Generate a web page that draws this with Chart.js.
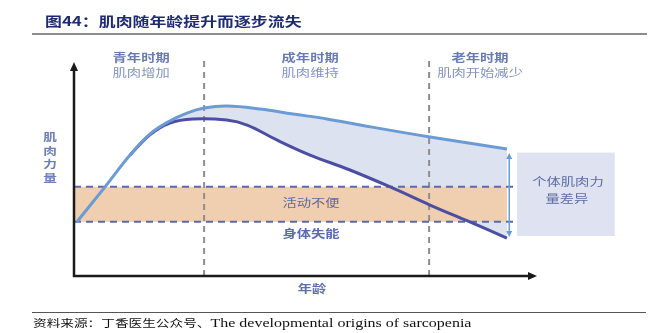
<!DOCTYPE html>
<html>
<head>
<meta charset="utf-8">
<script src="https://cdn.jsdelivr.net/npm/chart.js@4.4.1/dist/chart.umd.min.js"></script>
<style>
  body { margin: 0; background: #fff; }
  #wrap { position: relative; width: 655px; height: 333px; overflow: hidden; }
  #wrap canvas { position: absolute; left: 0; top: 0; }
  .title { position: absolute; left: 45px; top: 12px; font: bold 13px "Noto Sans CJK SC"; color: #1f2b70;
           letter-spacing: 0; transform: scaleX(1.3); transform-origin: 0 0; white-space: nowrap; line-height: 18px; }
  .rule-top { position: absolute; left: 32px; top: 33px; width: 615px; height: 2px; background: #8c8c8c; }
  .rule-bottom { position: absolute; left: 32px; top: 312px; width: 614px; height: 1px; background: #555; }
  .source { position: absolute; left: 33px; top: 316px; font: 10.5px "Liberation Serif", "Noto Sans CJK SC"; color: #111;
            transform: scaleX(1.3); transform-origin: 0 0; white-space: nowrap; line-height: 14px; }
  .source .en { font-size: 12.3px; }
</style>
</head>
<body>
<div id="wrap">
  <canvas id="muscleChart" width="655" height="333"></canvas>
  <div class="title">图44：肌肉随年龄提升而逐步流失</div>
  <div class="rule-top"></div>
  <div class="rule-bottom"></div>
  <div class="source">资料来源：丁香医生公众号、<span class="en">The developmental origins of sarcopenia</span></div>
</div>
<script>
// CURVE DATA (age 0-100, muscle strength 0-100)
const upperAge = [0.6, 6.5, 12.1, 16.4, 20.7, 24.4, 28.1, 33.0, 40.2, 47.3, 54.6, 61.8, 76.9, 93.5];
const upperStrength = [23.9, 38.9, 53.5, 62.8, 68.6, 72.1, 74.3, 75.2, 73.9, 71.7, 69.5, 66.8, 61.5, 56.2];
const lowerAge = [12.1, 16.4, 20.7, 25.7, 33.0, 37.4, 43.8, 51.0, 59.6, 68.3, 76.9, 85.5, 93.5];
const lowerStrength = [53.5, 62.5, 67.7, 69.5, 69.0, 66.8, 60.2, 53.5, 46.9, 39.4, 31.4, 23.9, 16.8];

// thresholds and life phases
const limitNames = ['活动不便', '身体失能'];
const limitValues = [39.5, 24.0];
const phaseNames = ['青年时期', '成年时期', '老年时期'];
const phaseNotes = ['肌肉增加', '肌肉维持', '肌肉开始减少'];
const phaseEdges = [28.1, 76.7];
const yTitle = '肌肉力量';
const xTitle = '年龄';
const gapNote = ['个体肌肉力', '量差异'];

const toPoints = (xs, ys) => xs.map((x, i) => ({ x: x, y: ys[i] }));
const lastAge = upperAge[upperAge.length - 1];

const upperPts = toPoints(upperAge, upperStrength);
const lowerPts = toPoints(lowerAge, lowerStrength);

function flatLine(value, toAge) {
  return [{ x: 0, y: value }, { x: toAge, y: value }];
}

const datasets = [
  { data: upperPts, borderColor: '#6b9bd4', borderWidth: 3, tension: 0.4, order: 0 },
  { data: lowerPts, borderColor: '#4c4ea2', borderWidth: 3, tension: 0.4, order: 1 },
  { data: flatLine(limitValues[0], lastAge + 2.2), borderColor: '#5b6aa8', borderWidth: 2, borderDash: [7, 5], order: 2 },
  { data: flatLine(limitValues[1], lastAge + 2.2), borderColor: '#5b6aa8', borderWidth: 2, borderDash: [7, 5], order: 2 },
];
phaseEdges.forEach(edge => {
  datasets.push({ data: [{ x: edge, y: 0 }, { x: edge, y: 96.5 }], borderColor: '#8e8e8e', borderWidth: 2, borderDash: [6, 5], order: 3 });
});
// orange band between the two limits
datasets.push({ data: flatLine(limitValues[0], lastAge), borderWidth: 0, fill: { value: limitValues[1] },
  backgroundColor: '#f0ceb0', order: 8 });
// shaded gap between the two curves
datasets.push({ data: lowerPts, borderWidth: 0, tension: 0.4, fill: { target: 0 },
  backgroundColor: '#dde2f1', order: 9 });

function label(ctx, text, px, py, font, color) {
  ctx.save();
  ctx.translate(px, py);
  ctx.scale(1.3, 1);
  ctx.font = font;
  ctx.fillStyle = color;
  ctx.textAlign = 'center';
  ctx.textBaseline = 'middle';
  ctx.fillText(text, 0, 0);
  ctx.restore();
}

const decor = {
  id: 'decor',
  afterDatasetsDraw(chart) {
    const { ctx, scales: { x, y } } = chart;
    const x0 = x.getPixelForValue(0), y0 = y.getPixelForValue(0);
    const xEnd = x.getPixelForValue(100), yEnd = y.getPixelForValue(94.7);

    // axes with arrow heads
    ctx.save();
    ctx.strokeStyle = '#1a1a1a';
    ctx.fillStyle = '#1a1a1a';
    ctx.lineWidth = 2.5;
    ctx.beginPath();
    ctx.moveTo(x0, y0 + 1.2);
    ctx.lineTo(x0, yEnd + 6);
    ctx.moveTo(x0 - 1.2, y0);
    ctx.lineTo(xEnd - 6, y0);
    ctx.stroke();
    ctx.beginPath();
    ctx.moveTo(x0, yEnd);
    ctx.lineTo(x0 - 4, yEnd + 9);
    ctx.lineTo(x0 + 4, yEnd + 9);
    ctx.closePath();
    ctx.fill();
    ctx.beginPath();
    ctx.moveTo(xEnd, y0);
    ctx.lineTo(xEnd - 9, y0 - 4);
    ctx.lineTo(xEnd - 9, y0 + 4);
    ctx.closePath();
    ctx.fill();
    ctx.restore();

    // side box for individual difference
    const boxL = x.getPixelForValue(95.7), boxR = x.getPixelForValue(116.8);
    const boxT = y.getPixelForValue(54.6), boxB = y.getPixelForValue(17.7);
    ctx.save();
    ctx.fillStyle = '#dfe3f1';
    ctx.fillRect(boxL, boxT, boxR - boxL, boxB - boxT);
    ctx.restore();
    label(ctx, gapNote[0], (boxL + boxR) / 2 + 2, 182, '11px "Noto Sans CJK SC"', '#5d6ca3');
    label(ctx, gapNote[1], (boxL + boxR) / 2 + 1, 198.5, '11px "Noto Sans CJK SC"', '#5d6ca3');

    // double arrow between curve ends
    const ax = x.getPixelForValue(94.0);
    const aTop = y.getPixelForValue(upperStrength[upperStrength.length - 1]) + 4;
    const aBot = y.getPixelForValue(lowerStrength[lowerStrength.length - 1]) - 1;
    ctx.save();
    ctx.strokeStyle = '#6b9bd4';
    ctx.fillStyle = '#6b9bd4';
    ctx.lineWidth = 1.5;
    ctx.beginPath();
    ctx.moveTo(ax, aTop + 4);
    ctx.lineTo(ax, aBot - 4);
    ctx.stroke();
    ctx.beginPath();
    ctx.moveTo(ax, aTop); ctx.lineTo(ax - 3, aTop + 6); ctx.lineTo(ax + 3, aTop + 6); ctx.closePath();
    ctx.moveTo(ax, aBot); ctx.lineTo(ax - 3, aBot - 6); ctx.lineTo(ax + 3, aBot - 6); ctx.closePath();
    ctx.fill();
    ctx.restore();

    // phase headings
    const phaseCenters = [14.5, 51.0, 87.7];
    phaseNames.forEach((name, i) => {
      const px = x.getPixelForValue(phaseCenters[i]);
      label(ctx, name, px, 58, 'bold 11px "Noto Sans CJK SC"', '#6a7bb0');
      label(ctx, phaseNotes[i], px, 73, '11px "Noto Sans CJK SC"', '#8393c2');
    });

    // limit labels
    const midX = x.getPixelForValue(51.2);
    label(ctx, limitNames[0], midX, 203, '11px "Noto Sans CJK SC"', '#5f6b9d');
    label(ctx, limitNames[1], midX, 234, 'bold 11px "Noto Sans CJK SC"', '#5b6bb0');

    // axis titles
    label(ctx, xTitle, x.getPixelForValue(51.4), 289, 'bold 11px "Noto Sans CJK SC"', '#6070a8');
    Array.from(yTitle).forEach((ch, i) => {
      label(ctx, ch, 50, 137.5 + i * 13.4, 'bold 10.5px "Noto Sans CJK SC"', '#6d7fb5');
    });
  }
};

const ctx = document.getElementById('muscleChart').getContext('2d');
const muscleChart = new Chart(ctx, {
  type: 'line',
  data: { datasets: datasets },
  options: {
    responsive: false,
    animation: false,
    layout: { padding: { left: 74, right: 118, top: 50, bottom: 57 } },
    elements: { point: { radius: 0 } },
    scales: {
      x: { type: 'linear', min: 0, max: 100, display: false },
      y: { min: 0, max: 100, display: false }
    },
    plugins: {
      legend: { display: false },
      tooltip: { enabled: false },
      filler: { drawTime: 'beforeDatasetsDraw' }
    }
  },
  plugins: [decor]
});
</script>
</body>
</html>
